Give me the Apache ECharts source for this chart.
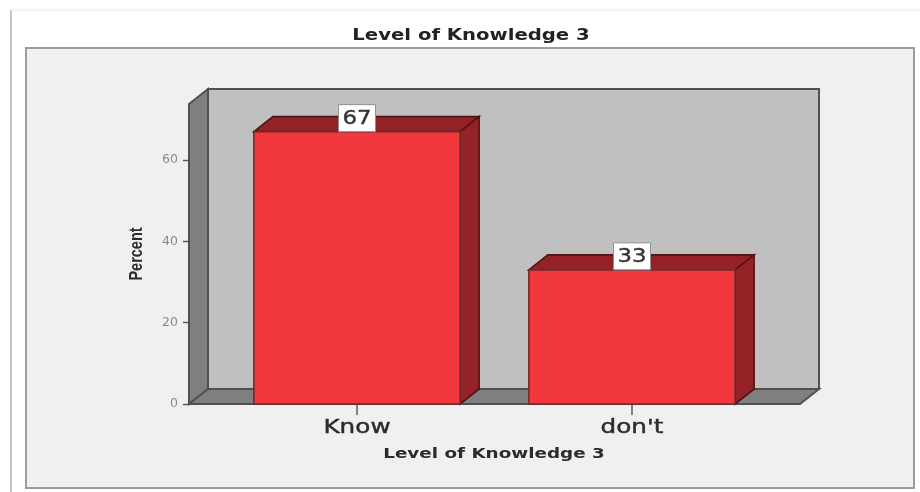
<!DOCTYPE html>
<html><head><meta charset="utf-8">
<style>html,body{margin:0;padding:0;background:#fff}#c{width:920px;height:492px}</style>
<script src="https://cdn.jsdelivr.net/npm/echarts@6/dist/echarts.min.js"></script>
</head><body><div id="c"></div>
<script>
const categories = ["Know", "don't"];
const percents = [67, 33];
const percentLabels = ["67", "33"];
const yTicks = [0, 20, 40, 60];
const yMax = 73.8;
const titleText = "Level of Knowledge 3";
const xName = "Level of Knowledge 3";
const yName = "Percent";

const DX = 19, DY = 15, AXIS_OUT = 30.5;
const chart = echarts.init(document.getElementById('c'), null, {renderer: 'canvas'});
const wall = {stroke: '#505050', lineWidth: 2};

function renderWalls(params, api) {
  const cs = params.coordSys;
  const x0 = cs.x - AXIS_OUT, x1 = cs.x + cs.width + AXIS_OUT, y0 = cs.y, y1 = cs.y + cs.height;
  return {type: 'group', silent: true, children: [
    {type: 'polygon', shape: {points: [[x0+DX,y0-DY],[x1+DX,y0-DY],[x1+DX,y1-DY],[x0+DX,y1-DY]]}, style: {fill: '#c0c0c0', ...wall}},
    {type: 'polygon', shape: {points: [[x0,y0],[x0+DX,y0-DY],[x0+DX,y1-DY],[x0,y1]]}, style: {fill: '#7f7f7f', ...wall}},
    {type: 'polygon', shape: {points: [[x0,y1],[x0+DX,y1-DY],[x1+DX,y1-DY],[x1,y1]]}, style: {fill: '#7f7f7f', ...wall}}
  ]};
}
function renderBar(params, api) {
  const top = api.coord([api.value(0), api.value(1)]);
  const base = api.coord([api.value(0), 0]);
  const w = api.size([1, 0])[0] * 0.75;
  const l = top[0] - w / 2, r = top[0] + w / 2, t = top[1], b = base[1];
  const edge = {stroke: '#4f1416', lineWidth: 1.6};
  return {type: 'group', children: [
    {type: 'polygon', shape: {points: [[l,t],[l+DX,t-DY],[r+DX,t-DY],[r,t]]}, style: {fill: '#952226', ...edge}},
    {type: 'polygon', shape: {points: [[r,t],[r+DX,t-DY],[r+DX,b-DY],[r,b]]}, style: {fill: '#952226', ...edge}},
    {type: 'rect', shape: {x: l, y: t, width: w, height: b - t}, style: {fill: '#f2373d', stroke: '#6e2a2e', lineWidth: 1.6}},
    {type: 'rect', shape: {x: top[0]-18.5, y: t-27, width: 37, height: 27}, style: {fill: '#fff', stroke: '#8f8f8f', lineWidth: 1}},
    {type: 'text', x: top[0], y: t-13, scaleX: 1.2, style: {x: 0, y: 0, text: percentLabels[params.dataIndex], fill: '#333', stroke: '#333', lineWidth: 0.4, align: 'center', verticalAlign: 'middle', font: '19px "DejaVu Sans"'}},
    {type: 'text', x: top[0], y: b+24, scaleX: 1.3, style: {x: 0, y: 0, text: categories[params.dataIndex], fill: '#2b2b2b', stroke: '#2b2b2b', lineWidth: 0.4, align: 'center', verticalAlign: 'middle', font: '19px "DejaVu Sans"'}}
  ]};
}
function stretched(text, x, y, sx, font, fill, extra) {
  return Object.assign({type: 'text', silent: true, x, y, scaleX: sx, z: 10,
    style: {x: 0, y: 0, text, fill, align: 'center', verticalAlign: 'middle', font}}, extra || {});
}

chart.setOption({
  animation: false,
  backgroundColor: '#fff',
  grid: {left: 219.5, right: 150.5, top: 104, bottom: 88},
  xAxis: {type: 'category', data: categories,
    axisLine: {show: false},
    axisTick: {show: true, alignWithLabel: true, length: 11, lineStyle: {color: '#666', width: 1.6}},
    axisLabel: {show: false}},
  yAxis: {type: 'value', min: 0, max: yMax, offset: AXIS_OUT,
    splitLine: {show: false},
    axisLine: {show: false},
    axisTick: {show: true, length: 6, customValues: yTicks, lineStyle: {color: '#555', width: 1.4}},
    axisLabel: {margin: 11, customValues: yTicks, fontFamily: 'DejaVu Sans', fontSize: 12.5, color: '#8a8a8a'}},
  series: [
    {type: 'custom', z: 1, silent: true, clip: false, renderItem: renderWalls, data: [[0, 0]], encode: {x: 0, y: 1}},
    {type: 'custom', z: 2, clip: false, renderItem: renderBar,
     data: categories.map((c, i) => [i, percents[i]]), encode: {x: 0, y: 1}}
  ],
  graphic: {elements: [
    {type: 'rect', z: -10, silent: true, shape: {x: 26, y: 48, width: 888, height: 440}, style: {fill: '#f0f0f0', stroke: '#9c9c9c', lineWidth: 2}},
    {type: 'line', z: -10, silent: true, shape: {x1: 11, y1: 10, x2: 11, y2: 492}, style: {stroke: '#c4c4c4', lineWidth: 2}},
    {type: 'line', z: -10, silent: true, shape: {x1: 11, y1: 10, x2: 920, y2: 10}, style: {stroke: '#f0f0f0', lineWidth: 1.5}},
    stretched(titleText, 471, 36, 1.31, 'bold 15px "DejaVu Sans"', '#222'),
    stretched(xName, 494, 454, 1.31, 'bold 14px "DejaVu Sans"', '#2b2b2b'),
    stretched(yName, 137, 254, 1, 'bold 14.5px "Liberation Sans"', '#2b2b2b', {rotation: Math.PI / 2, scaleY: 1.25})
  ]}
});
</script></body></html>
